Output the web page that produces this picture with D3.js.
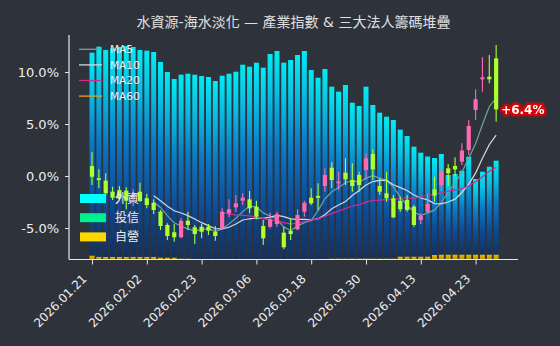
<!DOCTYPE html>
<html><head><meta charset="utf-8">
<script src="https://cdn.jsdelivr.net/npm/d3@7"></script>
<style>
html,body{margin:0;padding:0;background:#2e323a;}
svg{display:block;font-family:"DejaVu Sans","Noto Sans CJK TC",sans-serif;}
</style></head>
<body>
<svg id="chart" width="560" height="346"></svg>
<script>
const dates = ["2026-01-21","2026-01-22","2026-01-23","2026-01-26","2026-01-27","2026-01-28","2026-01-29","2026-01-30",
"2026-02-02","2026-02-03","2026-02-04","2026-02-05","2026-02-06","2026-02-09","2026-02-10","2026-02-11",
"2026-02-23","2026-02-24","2026-02-25","2026-02-26",
"2026-03-02","2026-03-03","2026-03-04","2026-03-05","2026-03-06","2026-03-09","2026-03-10","2026-03-11","2026-03-12","2026-03-13",
"2026-03-16","2026-03-17","2026-03-18","2026-03-19","2026-03-20","2026-03-23","2026-03-24","2026-03-25","2026-03-26","2026-03-27",
"2026-03-30","2026-03-31","2026-04-01","2026-04-02","2026-04-07","2026-04-08","2026-04-09","2026-04-10",
"2026-04-13","2026-04-14","2026-04-15","2026-04-16","2026-04-17","2026-04-20","2026-04-21","2026-04-22","2026-04-23","2026-04-24",
"2026-04-27","2026-04-28"];

const opens = [0.96,-0.22,-0.45,-1.51,-1.35,-1.41,-2.24,-1.51,-2.14,-2.57,
 -3.43,-4.71,-5.41,-5.89,-4.30,-4.93,-4.88,-4.88,-5.36,-5.03,
 -3.59,-3.01,-2.38,-2.24,-2.95,-4.81,-4.88,-4.62,-5.45,-5.29,
 -5.13,-3.43,-2.09,-1.92,-0.96,0.80,-0.70,0.32,-0.38,0.10,
 0.58,2.12,-0.96,-1.66,-2.14,-2.40,-2.31,-2.95,-4.23,-3.43,
 -1.28,-0.87,0.74,0.96,1.38,2.50,6.35,9.30,9.55,11.32];
const closes = [-0.07,-0.38,-1.66,-2.09,-2.14,-2.38,-1.83,-2.40,-2.79,-3.27,
 -4.81,-5.77,-5.89,-4.30,-4.71,-5.58,-5.36,-5.26,-5.77,-3.43,
 -3.20,-2.63,-2.09,-3.11,-3.91,-5.99,-4.16,-3.65,-6.86,-5.58,
 -3.75,-2.57,-2.63,-2.09,0.10,-0.38,-0.55,-0.32,-0.96,-0.87,
 1.70,0.64,-1.51,-2.14,-3.97,-3.20,-3.27,-4.71,-3.85,-2.69,
 -1.89,0.41,0.26,0.63,2.45,4.81,7.38,9.49,9.30,6.40];
const highs = [2.28,0.64,0.26,-1.03,-0.96,-1.09,-1.28,-0.64,-1.73,-2.24,
 -3.27,-4.55,-4.62,-4.07,-3.43,-4.71,-4.62,-4.62,-4.81,-3.11,
 -2.24,-1.83,-1.66,-1.44,-2.38,-4.23,-3.53,-3.43,-4.88,-4.07,
 -3.20,-2.38,-1.18,-0.70,0.74,1.32,0.41,1.70,1.22,0.41,
 2.18,2.57,-0.22,0.41,-1.83,-1.99,-1.83,-2.79,-3.59,-1.66,
 -0.07,1.06,1.15,1.80,3.14,5.38,8.34,11.41,11.63,12.60];
const lows = [-0.87,-1.18,-1.83,-2.31,-2.31,-3.20,-2.88,-2.47,-3.11,-3.65,
 -5.19,-6.15,-6.32,-5.99,-5.19,-6.54,-5.99,-5.67,-6.22,-5.13,
 -3.97,-3.43,-2.79,-3.59,-4.16,-6.63,-5.03,-4.88,-7.05,-6.15,
 -5.19,-3.91,-2.79,-3.27,-1.51,-1.18,-1.35,-0.87,-1.51,-1.51,
 -0.38,-0.38,-1.83,-2.47,-4.07,-3.43,-3.43,-4.88,-4.62,-3.59,
 -2.47,-1.44,-0.96,0.00,1.06,2.02,5.38,8.11,8.91,5.22];

// 三大法人籌碼 (stacked)
const chipForeign = [202.8,210.1,206.8,208.3,209.8,210.8,209.8,206.8,206.1,204.8,
 195.5,185.5,178.5,183.8,184.8,184.8,183.5,182.5,178.5,183.8,
 185.8,187.8,194.8,192.8,196.8,191.8,205.5,208.5,196.8,199.5,
 203.8,207.8,189.5,181.8,190.5,171.8,166.8,173.5,155.8,152.5,
 171.8,153.5,145.8,141.8,138.5,126.8,120.5,109.8,103.8,100.0,
 97.0,100.5,79.5,80.5,83.8,97.8,75.5,82.8,87.8,93.8];
const chipTrust = [0,0,0,0,0,0,0,0,0,0, 0,0,0,0,0,0,0,0,0,0, 0,0,0,0,0,0,0,0,0,0,
 0,0,0,0,0,0,0,0,0,0, 0,0,0,0,0,0,0,0,0,0, 0,0,0,0,0,0,0,0,0,0];
const chipDealer = [4,2.7,2.7,2.7,2.7,2.7,2.7,2.7,2.7,2.7,
 2,2,2,1,1,0,0,0,0,0,
 0,0,0,0,0,0,0,0,0,0,
 0.7,0.7,0,0,0,1,1,1,1,1,
 1,1,1,1,1,3,3,3,3,3,
 4.5,5,5,5,5,5,5,5,5,5];

const chipNames = ["外資","投信","自營"];
const chipColors = ["#00ffff","#00f08c","#ffd700"];
const maPeriods = [5,10,20,60];
const maColors = ["#6fa3a3","#d4d8de","#d42a92","#e8a317"];
const yTicks = [-5,0,5,10];
const tickEvery = 8;
const titleText = "水資源-海水淡化 — 產業指數 & 三大法人籌碼堆疊";

const svg = d3.select("#chart");
const L = 69, R = 518, T = 35, B = 259.5;
const n = dates.length;
const x = d3.scaleLinear().domain([-3.36, 62.19]).range([L, R]);
const y = d3.scaleLinear().domain([-8.03, 13.56]).range([B, T]);
const step = x(1) - x(0);

const table = dates.map((d,i)=>({date:d, foreign:chipForeign[i], trust:chipTrust[i], dealer:chipDealer[i]}));
const stack = d3.stack().keys(["dealer","trust","foreign"])(table);
const totMax = d3.max(table, d=>d.foreign+d.trust+d.dealer);
const yc = d3.scaleLinear().domain([0, totMax*1.0515]).range([B, T]);

const defs = svg.append("defs");
const g1 = defs.append("linearGradient").attr("id","gF").attr("x1",0).attr("y1",1).attr("x2",0).attr("y2",0);
[[0,"#14305c"],[0.28,"#0c4c98"],[0.55,"#0a78c6"],[0.8,"#07bee4"],[1,"#00ecf2"]].forEach(s=>g1.append("stop").attr("offset",s[0]).attr("stop-color",s[1]));
const g2 = defs.append("linearGradient").attr("id","gT").attr("x1",0).attr("y1",1).attr("x2",0).attr("y2",0);
[[0,"#0a6a4a"],[1,"#00f08c"]].forEach(s=>g2.append("stop").attr("offset",s[0]).attr("stop-color",s[1]));
const g3 = defs.append("linearGradient").attr("id","gD").attr("x1",0).attr("y1",1).attr("x2",0).attr("y2",0);
[[0,"#b89000"],[1,"#e8c000"]].forEach(s=>g3.append("stop").attr("offset",s[0]).attr("stop-color",s[1]));
const fl = defs.append("filter").attr("id","glow").attr("x","-30%").attr("y","-60%").attr("width","160%").attr("height","220%");
fl.append("feDropShadow").attr("dx",0).attr("dy",0).attr("stdDeviation",1.5).attr("flood-color","#ff0000").attr("flood-opacity",0.9);

const fills = {dealer:"url(#gD)", trust:"url(#gT)", foreign:"url(#gF)"};
const bw = step*0.73;
svg.append("g").selectAll("g").data(stack).join("g")
  .attr("fill", d=>fills[d.key])
  .selectAll("rect").data(d=>d).join("rect")
  .attr("x",(d,i)=>x(i)-bw/2).attr("width",bw)
  .attr("y",d=>yc(d[1])).attr("height",d=>Math.max(0,yc(d[0])-yc(d[1])));

// moving averages
const maStartMin = 9;
maPeriods.forEach((p,k)=>{
  const pts = [];
  for(let i=Math.max(p-1, maStartMin); i<n; i++){
    pts.push([i, d3.mean(closes.slice(i-p+1,i+1))]);
  }
  if(pts.length<2) return;
  svg.append("path").datum(pts)
    .attr("fill","none").attr("stroke",maColors[k]).attr("stroke-width",1.2)
    .attr("d", d3.line().x(d=>x(d[0])).y(d=>y(d[1])));
});

// candles
const up = "#ff69b4", dn = "#adff2f";
const cw = 4.2;
const cg = svg.append("g");
dates.forEach((d,i)=>{
  const c = closes[i] >= opens[i] ? up : dn;
  cg.append("line").attr("x1",x(i)).attr("x2",x(i)).attr("y1",y(highs[i])).attr("y2",y(lows[i]))
    .attr("stroke",c).attr("stroke-width",1.1);
  const t = y(Math.max(opens[i],closes[i])), b = y(Math.min(opens[i],closes[i]));
  cg.append("rect").attr("x",x(i)-cw/2).attr("width",cw).attr("y",t).attr("height",Math.max(1,b-t)).attr("fill",c);
});

// axes
const axColor = "#e6e6e6";
const ya = svg.append("g").attr("transform",`translate(${L},0)`)
  .call(d3.axisLeft(y).tickValues(yTicks).tickFormat(d=>d.toFixed(1)+"%").tickSize(4).tickPadding(6));
ya.select(".domain").remove();
ya.selectAll("line").attr("stroke",axColor);
ya.selectAll("text").attr("fill","#eeeeee").attr("font-size","13px").attr("font-family","DejaVu Sans");

const tickIdx = dates.map((d,i)=>i).filter(i=>i%tickEvery===0);
const xa = svg.append("g").attr("transform",`translate(0,${B})`)
  .call(d3.axisBottom(x).tickValues(tickIdx).tickFormat(i=>dates[i].replace(/-/g,".")).tickSize(5));
xa.select(".domain").remove();
xa.selectAll("line").attr("stroke",axColor);
xa.selectAll("text").attr("fill","#eeeeee").attr("font-size","12px").attr("font-family","DejaVu Sans")
  .attr("text-anchor","end").attr("dy",0).attr("y",0)
  .attr("transform","translate(-5,20) rotate(-45)");

svg.append("line").attr("x1",L).attr("x2",L).attr("y1",T).attr("y2",B).attr("stroke",axColor).attr("stroke-width",1.2);
svg.append("line").attr("x1",L).attr("x2",R).attr("y1",B).attr("y2",B).attr("stroke",axColor).attr("stroke-width",1.2);

// title
svg.append("text").attr("x",(L+R)/2).attr("y",27).attr("text-anchor","middle")
  .attr("fill","#e0e0e0").attr("font-size","14px").text(titleText);

// MA legend
const lg = svg.append("g");
maPeriods.forEach((p,k)=>{
  const yy = 49.3 + k*15.6;
  lg.append("line").attr("x1",79).attr("x2",102).attr("y1",yy).attr("y2",yy).attr("stroke",maColors[k]).attr("stroke-width",1.3);
  lg.append("text").attr("x",110).attr("y",yy).attr("dy","0.36em").attr("fill","#eeeeee")
    .attr("font-size","10.5px").text("MA"+p);
});

// chip legend
chipNames.forEach((nm,k)=>{
  const yy = 194 + k*19.2;
  svg.append("rect").attr("x",80).attr("y",yy).attr("width",26).attr("height",9).attr("fill",chipColors[k]);
  svg.append("text").attr("x",115).attr("y",yy+4.5).attr("dy","0.36em").attr("fill","#eeeeee")
    .attr("font-size","12px").text(nm);
});

// last value label
const last = n-1;
const lbl = (closes[last]>=0?"+":"")+closes[last].toFixed(1)+"%";
svg.append("text").attr("x",x(last)+5).attr("y",y(closes[last])).attr("dy","0.36em")
  .attr("font-size","12px").attr("font-weight","bold").attr("fill","#ffffff")
  .attr("stroke","#e00000").attr("stroke-width",4).attr("stroke-linejoin","round")
  .attr("paint-order","stroke").attr("filter","url(#glow)").text(lbl);
</script>
</body></html>
